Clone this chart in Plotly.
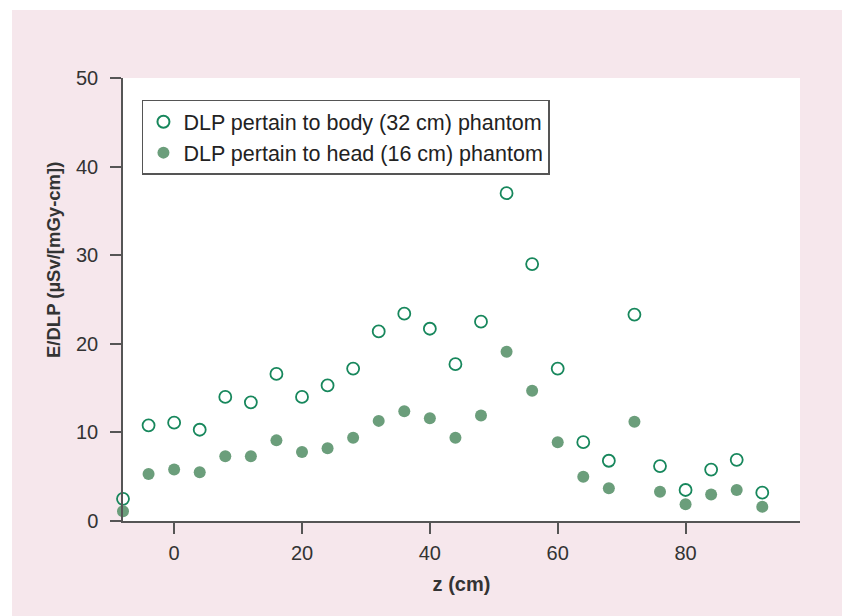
import plotly.graph_objects as go

z_cm = [-8, -4, 0, 4, 8, 12, 16, 20, 24, 28, 32, 36, 40, 44, 48, 52, 56, 60, 64, 68, 72, 76, 80, 84, 88, 92]
body_32cm = [2.5, 10.8, 11.1, 10.3, 14.0, 13.4, 16.6, 14.0, 15.3, 17.2, 21.4, 23.4, 21.7, 17.7, 22.5,
             37.0, 29.0, 17.2, 8.9, 6.8, 23.3, 6.2, 3.5, 5.8, 6.9, 3.2]
head_16cm = [1.1, 5.3, 5.8, 5.5, 7.3, 7.3, 9.1, 7.8, 8.2, 9.4, 11.3, 12.4, 11.6, 9.4, 11.9,
             19.1, 14.7, 8.9, 5.0, 3.7, 11.2, 3.3, 1.9, 3.0, 3.5, 1.6]
x_ticks = [0, 20, 40, 60, 80]
y_ticks = [0, 10, 20, 30, 40, 50]
x_title = "<b>z (cm)</b>"
y_title = "<b>E/DLP (µSv/[mGy-cm])</b>"

PINK = "#f6e7ec"
FONT = "Liberation Sans, Arial, sans-serif"

fig = go.Figure()
fig.add_trace(go.Scatter(
    x=z_cm, y=body_32cm, mode="markers", name="DLP pertain to body (32 cm) phantom",
    marker=dict(symbol="circle-open", size=12, color="#17875c", line=dict(width=1.8, color="#17875c")),
    cliponaxis=False,
))
fig.add_trace(go.Scatter(
    x=z_cm, y=head_16cm, mode="markers", name="DLP pertain to head (16 cm) phantom",
    marker=dict(symbol="circle", size=12, color="#6b9e7b", line=dict(width=0)),
    cliponaxis=False,
))

# page body adds an 8px offset; figure is sized to fill the rest of the window
W, H = 842, 608
L, R, T, B = 115, 50, 70, 95
pw, ph = W - L - R, H - T - B

# white strips outside the pink panel (top 2px, left 4px in figure coords)
fig.add_shape(type="rect", xref="paper", yref="paper", layer="below",
              x0=-L / pw - 0.01, x1=(W - L) / pw + 0.01, y0=(H - B - 2) / ph, y1=(H - B) / ph + 0.01,
              fillcolor="white", line=dict(width=0))
fig.add_shape(type="rect", xref="paper", yref="paper", layer="below",
              x0=-L / pw - 0.01, x1=(4 - L) / pw, y0=-B / ph - 0.01, y1=(H - B) / ph + 0.01,
              fillcolor="white", line=dict(width=0))

# y-axis title placed as annotation (it sits above the plot centre in the reference)
fig.add_annotation(text=y_title, xref="paper", yref="paper",
                   x=(45 - L) / pw, y=(H - B - 252) / ph, xanchor="center", yanchor="middle",
                   textangle=-90, showarrow=False,
                   font=dict(family=FONT, size=18.5, color="#333333"))

fig.update_layout(
    width=W, height=H,
    margin=dict(l=L, r=R, t=T, b=B, pad=0),
    paper_bgcolor=PINK, plot_bgcolor="white",
    font=dict(family=FONT, size=20, color="#333333"),
    showlegend=True,
    legend=dict(x=0.028, y=0.951, xanchor="left", yanchor="top",
                bgcolor="white", bordercolor="#555555", borderwidth=1.5,
                font=dict(size=21.5, color="#222222"), itemsizing="constant",
                tracegroupgap=0),
    xaxis=dict(range=[-8, 97.9], tickvals=x_ticks, showgrid=False, zeroline=False,
               showline=True, linecolor="#555555", linewidth=1.5,
               ticks="outside", ticklen=11, tickwidth=1.5, tickcolor="#555555",
               tickfont=dict(size=20, color="#333333"), ticklabelstandoff=2,
               title=dict(text=x_title, font=dict(size=20, color="#333333"), standoff=14)),
    yaxis=dict(range=[0, 50], tickvals=y_ticks, showgrid=False, zeroline=False,
               showline=True, linecolor="#555555", linewidth=1.5,
               ticks="outside", ticklen=11, tickwidth=1.5, tickcolor="#555555",
               tickfont=dict(size=20, color="#333333"), ticklabelstandoff=8),
)

fig.write_html("out.html")
